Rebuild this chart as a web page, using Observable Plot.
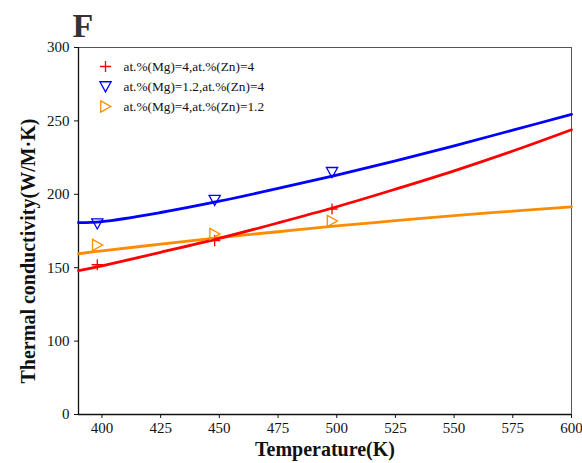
<!DOCTYPE html>
<html><head><meta charset="utf-8">
<script src="https://cdn.jsdelivr.net/npm/d3@7"></script>
<script src="https://cdn.jsdelivr.net/npm/@observablehq/plot@0.6"></script>
<style>body{margin:0;background:#fff}</style>
</head><body><div id="chart"></div>
<script>
const seriesNames = ["at.%(Mg)=4,at.%(Zn)=4", "at.%(Mg)=1.2,at.%(Zn)=4", "at.%(Mg)=4,at.%(Zn)=1.2"];
const seriesColors = ["#ff0000", "#0000ff", "#ff8c00"];
const lineTemps = [390, 400, 425, 450, 475, 500, 525, 550, 575, 600];
const redLine = [148, 151.3, 160.5, 170, 180.5, 191.5, 203.5, 216, 229.5, 244];
const blueLine = [180.7, 181.4, 187.6, 195.3, 204, 213, 222.7, 233, 243.7, 254.4];
const orangeLine = [159.5, 161.5, 166, 170.5, 174.5, 178.5, 182, 185.5, 188.5, 191.5];
const markerTemps = [398, 448, 498];
const redPts = [152, 168.5, 190];
const bluePts = [180, 196, 215];
const orangePts = [165.5, 173, 181.8];
const xTicks = [400, 425, 450, 475, 500, 525, 550, 575, 600];
const yTicks = [0, 100, 150, 200, 250, 300];

const rad = size => Math.sqrt(size / Math.PI);
const plusSym = {draw(c, size) {const s = rad(size); c.moveTo(-s, 0); c.lineTo(s, 0); c.moveTo(0, -s); c.lineTo(0, s);}};
const triDown = {draw(c, size) {const s = rad(size); c.moveTo(-s, -s * 0.85); c.lineTo(s, -s * 0.85); c.lineTo(0, s * 0.95); c.closePath();}};
const triRight = {draw(c, size) {const s = rad(size); c.moveTo(-s * 0.85, -s); c.lineTo(s * 0.95, 0); c.lineTo(-s * 0.85, s); c.closePath();}};
const symbols = [plusSym, triDown, triRight];

const lineSets = [redLine, blueLine, orangeLine];
const ptSets = [redPts, bluePts, orangePts];
const lineData = lineSets.map(vals => vals.map((v, j) => ({T: lineTemps[j], k: v})));
const ptData = ptSets.map(vals => vals.map((v, j) => ({T: markerTemps[j], k: v})));

const marks = [
  Plot.frame({stroke: "#555", strokeWidth: 1}),
  Plot.ruleX([390], {stroke: "#111", strokeWidth: 1.3}),
  Plot.ruleY([0], {stroke: "#111", strokeWidth: 1.3}),
  Plot.axisX({ticks: xTicks, tickSize: 4, tickPadding: 4, fontSize: 15, label: null}),
  Plot.axisY({ticks: yTicks, tickSize: 4, tickPadding: 5, fontSize: 15, label: null}),
];
[2, 0, 1].forEach(i => {
  marks.push(Plot.line(lineData[i], {x: "T", y: "k", stroke: seriesColors[i], strokeWidth: 2.8, curve: "catmull-rom"}));
});
seriesNames.forEach((name, i) => {
  marks.push(Plot.dot(ptData[i], {x: "T", y: "k", stroke: seriesColors[i], symbol: symbols[i], r: 5.6, strokeWidth: 1.3, fill: "none"}));
  marks.push(Plot.dot([name], {frameAnchor: "top-left", dx: 27, dy: 19 + i * 20, stroke: seriesColors[i], symbol: symbols[i], r: 5.6, strokeWidth: 1.3, fill: "none"}));
  marks.push(Plot.text([name], {frameAnchor: "top-left", dx: 45, dy: 19 + i * 20, lineAnchor: "middle", text: d => d, textAnchor: "start", fontSize: 13.3, fill: "#111"}));
});
marks.push(Plot.text(["Temperature(K)"], {frameAnchor: "bottom", dy: 41, text: d => d, fontSize: 20, fontWeight: "bold", fill: "#111"}));
marks.push(Plot.text(["Thermal conductivity(W/M\u00b7K)"], {frameAnchor: "left", dx: -50, dy: 20, rotate: -90, textAnchor: "middle", lineAnchor: "middle", text: d => d, fontSize: 20, fontWeight: "bold", fill: "#111"}));
marks.push(Plot.text(["F"], {frameAnchor: "top-left", dx: -6, dy: -11, lineAnchor: "bottom", textAnchor: "start", text: d => d, fontSize: 34, fontWeight: "bold", fill: "#333"}));

const chart = Plot.plot({
  width: 582, height: 463,
  marginLeft: 78, marginRight: 11, marginTop: 47, marginBottom: 49,
  style: {fontFamily: "'Liberation Serif', 'Times New Roman', serif", background: "#fff", color: "#111", overflow: "visible"},
  x: {type: "linear", domain: [390, 600]},
  y: {type: "linear", domain: yTicks},
  marks
});
document.getElementById("chart").appendChild(chart);
</script>
</body></html>
